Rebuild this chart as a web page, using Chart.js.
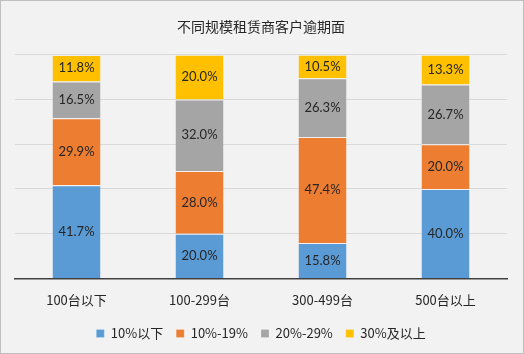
<!DOCTYPE html>
<html>
<head>
<meta charset="utf-8">
<script src="https://cdn.jsdelivr.net/npm/chart.js@4"></script>
<style>
  html, body { margin: 0; padding: 0; background: #f2f2f2; }
  #wrap { width: 524px; height: 354px; }
</style>
</head>
<body>
<div id="wrap"><canvas id="overdueChart" width="524" height="354"></canvas></div>
<script>
const categories = ['100台以下', '100-299台', '300-499台', '500台以上'];
const seriesNames = ['10%以下', '10%-19%', '20%-29%', '30%及以上'];
const below10 = [41.7, 20.0, 15.8, 40.0];
const from10to19 = [29.9, 28.0, 47.4, 20.0];
const from20to29 = [16.5, 32.0, 26.3, 26.7];
const above30 = [11.8, 20.0, 10.5, 13.3];
const yTicks = [0, 20, 40, 60, 80, 100];

const colors = ['#5b9bd5', '#ed7d31', '#a5a5a5', '#ffc000'];
const cjk = "'Noto Sans CJK SC', 'Microsoft YaHei', sans-serif";

const background = {
    id: 'background',
    beforeDraw(chart) {
        const c = chart.ctx;
        c.save();
        c.fillStyle = '#f2f2f2';
        c.fillRect(0, 0, chart.width, chart.height);
        c.strokeStyle = '#bfbfbf';
        c.lineWidth = 1;
        c.strokeRect(0.5, 0.5, chart.width - 1, chart.height - 1);
        c.restore();
    }
};

const barLabels = {
    id: 'barLabels',
    afterDatasetsDraw(chart) {
        const c = chart.ctx;
        c.save();
        c.font = "13px Lato, " + cjk;
        c.fillStyle = '#262626';
        c.textAlign = 'center';
        c.textBaseline = 'middle';
        chart.data.datasets.forEach(function (ds, i) {
            chart.getDatasetMeta(i).data.forEach(function (bar, j) {
                const mid = (bar.y + bar.base) / 2;
                c.fillText(ds.data[j].toFixed(1) + '%', bar.x, mid);
            });
        });
        c.restore();
    }
};

const ctx = document.getElementById('overdueChart').getContext('2d');
new Chart(ctx, {
    type: 'bar',
    data: {
        labels: categories,
        datasets: [below10, from10to19, from20to29, above30].map(function (d, i) {
            return {
                label: seriesNames[i],
                data: d,
                backgroundColor: colors[i],
                borderColor: '#f2f2f2',
                borderWidth: { top: 1 },
                borderSkipped: 'bottom',
                barPercentage: 0.39,
                categoryPercentage: 1
            };
        })
    },
    options: {
        responsive: false,
        animation: false,
        layout: { padding: { left: 15, right: 17, top: 0, bottom: 4 } },
        plugins: {
            title: {
                display: true,
                text: '不同规模租赁商客户逾期面',
                color: '#262626',
                font: { family: cjk, size: 14, weight: 'normal' },
                padding: { top: 18, bottom: 20 }
            },
            legend: {
                position: 'bottom',
                labels: {
                    boxWidth: 8,
                    boxHeight: 8,
                    color: '#262626',
                    font: { family: cjk, size: 13 },
                    padding: 13
                }
            },
            tooltip: { enabled: false }
        },
        scales: {
            x: {
                stacked: true,
                grid: { display: false },
                border: { color: '#404040', width: 1.5 },
                ticks: { color: '#262626', font: { family: cjk, size: 13 }, padding: 6 }
            },
            y: {
                stacked: true,
                min: 0,
                max: 100,
                afterBuildTicks(scale) {
                    scale.ticks = yTicks.map(function (v) { return { value: v }; });
                },
                ticks: { display: false },
                grid: { color: '#d9d9d9', drawTicks: false },
                border: { display: false }
            }
        }
    },
    plugins: [background, barLabels]
});
</script>
</body>
</html>
